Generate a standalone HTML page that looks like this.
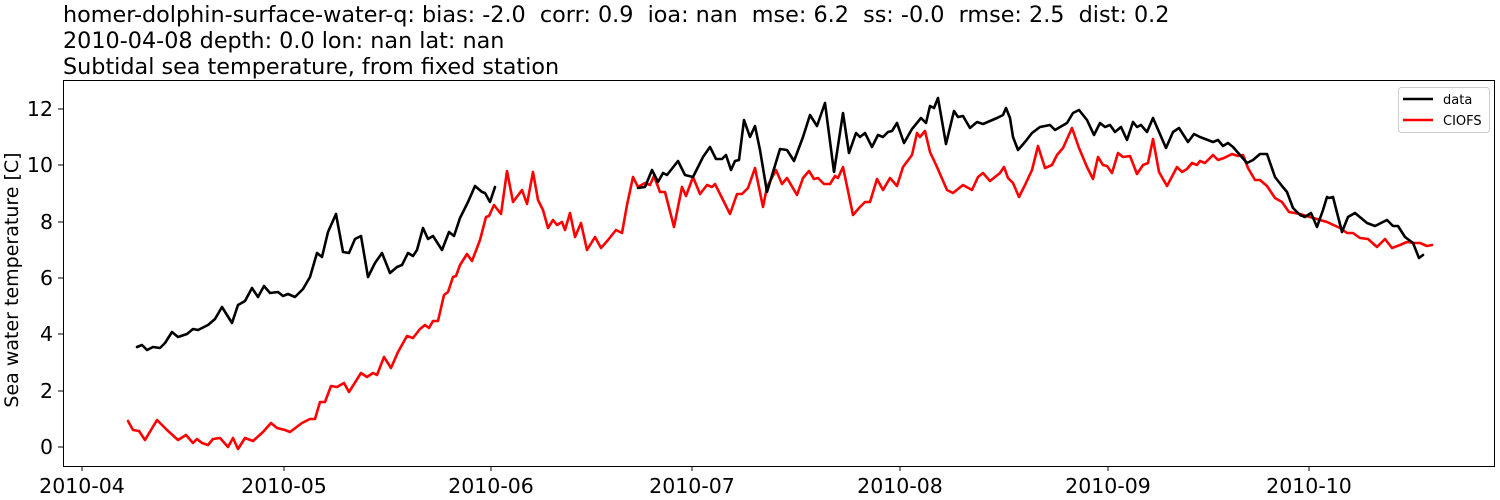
<!DOCTYPE html>
<html><head><meta charset="utf-8"><style>
html,body{margin:0;padding:0;background:#fff;}
svg{display:block;font-family:"DejaVu Sans","Liberation Sans",sans-serif;}
</style></head><body>
<svg width="1500" height="500" viewBox="0 0 1500 500" xmlns="http://www.w3.org/2000/svg">
<rect width="1500" height="500" fill="#fff"/>
<g font-size="22.3" fill="#000" style="white-space:pre">
<text x="63" y="22" xml:space="preserve">homer-dolphin-surface-water-q: bias: -2.0  corr: 0.9  ioa: nan  mse: 6.2  ss: -0.0  rmse: 2.5  dist: 0.2</text>
<text x="63" y="48">2010-04-08 depth: 0.0 lon: nan lat: nan</text>
<text x="63" y="74">Subtidal sea temperature, from fixed station</text>
</g>
<g stroke="#000" stroke-width="1">
<line x1="82" y1="466" x2="82" y2="471"/><line x1="284" y1="466" x2="284" y2="471"/><line x1="491" y1="466" x2="491" y2="471"/><line x1="692" y1="466" x2="692" y2="471"/><line x1="900" y1="466" x2="900" y2="471"/><line x1="1108" y1="466" x2="1108" y2="471"/><line x1="1309" y1="466" x2="1309" y2="471"/>
<line x1="58" y1="447" x2="63" y2="447"/><line x1="58" y1="391" x2="63" y2="391"/><line x1="58" y1="334" x2="63" y2="334"/><line x1="58" y1="278" x2="63" y2="278"/><line x1="58" y1="222" x2="63" y2="222"/><line x1="58" y1="165" x2="63" y2="165"/><line x1="58" y1="109" x2="63" y2="109"/>
</g>
<g font-size="20.5" text-anchor="middle">
<text x="82" y="493">2010-04</text><text x="284" y="493">2010-05</text><text x="491" y="493">2010-06</text><text x="692" y="493">2010-07</text><text x="900" y="493">2010-08</text><text x="1108" y="493">2010-09</text><text x="1309" y="493">2010-10</text>
</g>
<g font-size="20.5" text-anchor="end">
<text x="53" y="454">0</text><text x="53" y="398">2</text><text x="53" y="341">4</text><text x="53" y="285">6</text><text x="53" y="229">8</text><text x="53" y="172">10</text><text x="53" y="116">12</text>
</g>
<text transform="translate(18,280) rotate(-90)" font-size="19" text-anchor="middle">Sea water temperature [C]</text>
<g fill="none" stroke-width="2.6" stroke-linejoin="round" stroke-linecap="round">
<polyline stroke="#f00" points="128,421 133,430 139,431 145,440 157,420 167,430 178,440 186,435 193,443 197,439 202,443 208,445 213,439 220,438 228,447 233,438 238,449 245,438 253,441 263,432 271,423 277,428 285,430 290,432 302,423 310,419 315,419 320,402 325,402 331,386 337,387 344,383 349,392 361,373 367,377 373,373 377,375 384,357 391,368 398,352 407,336 413,338 420,329 425,325 429,328 433,321 438,321 444,295 448,292 453,277 456,276 460,265 467,254 472,261 480,240 486,217 489,216 494,205 501,214 507,171 513,202 522,190 527,204 533,172 538,200 543,210 548,228 553,220 557,225 562,222 565,230 570,213 575,237 581,223 587,250 595,237 601,248 608,240 616,230 622,233 627,205 633,177 638,187 645,183 650,185 654,176 660,192 665,192 674,227 682,187 686,196 693,177 700,194 707,185 712,187 715,184 730,214 737,194 742,194 748,188 755,168 763,207 767,187 776,170 782,184 787,178 797,195 803,178 809,171 814,179 818,178 824,184 830,184 835,176 838,178 843,167 853,215 860,207 865,202 870,202 877,179 883,190 890,178 897,186 903,167 912,155 917,133 920,137 925,131 930,152 937,167 947,190 953,193 963,185 972,190 978,177 983,173 990,181 1000,173 1004,167 1008,178 1013,183 1019,197 1025,185 1032,170 1038,146 1045,168 1052,165 1057,155 1063,148 1072,128 1079,148 1087,167 1093,179 1098,157 1103,165 1107,166 1112,173 1118,153 1123,157 1130,156 1137,174 1143,165 1148,163 1153,139 1159,172 1167,186 1177,167 1182,172 1187,169 1192,163 1197,165 1200,161 1205,163 1213,155 1218,160 1224,158 1232,154 1238,156 1243,155 1248,168 1255,180 1260,180 1267,186 1275,198 1282,202 1289,212 1300,214 1310,217 1327,222 1340,228 1347,233 1353,233 1360,238 1368,239 1377,247 1385,239 1392,248 1400,245 1407,242 1415,243 1420,243 1427,246 1432,245"/>
<polyline stroke="#000" points="137,347 142,345 147,350 153,347 160,348 165,343 172,332 178,337 187,334 193,329 198,330 208,325 215,319 222,307 232,323 238,305 245,301 252,288 258,297 264,286 270,293 278,292 283,296 288,294 295,297 303,289 310,277 317,253 322,257 328,232 336,214 343,252 349,253 355,239 361,236 368,277 375,263 382,253 390,273 397,267 402,265 408,253 413,256 417,250 423,228 428,239 433,236 442,250 449,232 454,236 460,218 468,202 475,186 482,192 485,193 490,202 495,187"/>
<polyline stroke="#000" points="638,188 645,187 652,170 658,182 663,173 667,175 678,161 685,175 693,177 703,157 710,147 716,159 722,159 726,155 731,170 735,161 739,160 744,120 750,137 755,126 760,150 767,192 780,149 787,150 794,161 803,137 810,115 817,126 825,103 834,172 843,113 849,153 856,133 860,137 865,133 872,147 878,135 883,137 888,132 892,131 897,123 904,143 912,129 921,118 926,123 930,106 934,108 938,98 946,144 954,111 958,117 963,116 970,128 977,122 983,124 997,118 1003,115 1006,108 1010,118 1013,137 1018,150 1025,142 1032,133 1040,127 1050,125 1055,130 1067,123 1073,113 1079,110 1087,120 1094,135 1100,123 1105,127 1110,125 1115,132 1121,127 1127,140 1133,122 1137,127 1141,125 1147,132 1153,118 1166,148 1173,132 1179,128 1188,142 1194,134 1200,137 1213,142 1218,140 1223,146 1228,143 1233,147 1247,163 1253,160 1260,154 1267,154 1275,177 1282,186 1287,192 1293,208 1300,215 1305,217 1311,213 1317,227 1323,210 1327,197 1329,198 1333,197 1342,232 1348,217 1355,213 1367,223 1375,226 1387,220 1393,226 1398,226 1405,237 1413,243 1419,258 1423,255"/>
</g>
<rect x="63.5" y="80.5" width="1431" height="386" fill="none" stroke="#000" stroke-width="1"/>
<rect x="1398.5" y="87.5" width="91" height="45" rx="3" fill="#fff" fill-opacity="0.8" stroke="#ccc"/>
<line x1="1403" y1="99" x2="1433" y2="99" stroke="#000" stroke-width="2.6"/>
<line x1="1403" y1="120" x2="1433" y2="120" stroke="#f00" stroke-width="2.6"/>
<g font-size="13"><text x="1443" y="104">data</text><text x="1443" y="125">CIOFS</text></g>
</svg>
</body></html>
